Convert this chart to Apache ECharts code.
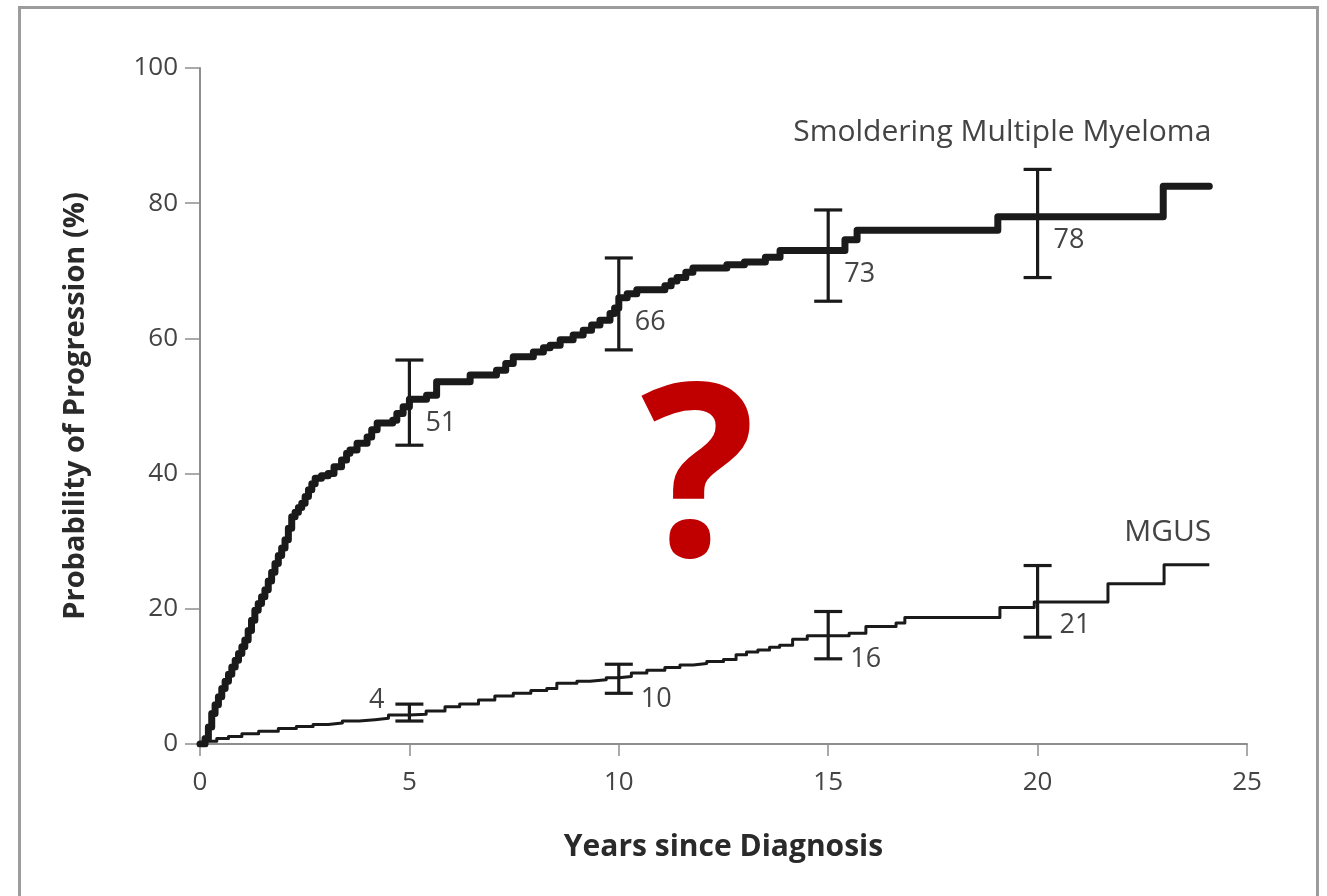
<!DOCTYPE html>
<html>
<head>
<meta charset="utf-8">
<title>Probability of Progression</title>
<script src="https://cdn.jsdelivr.net/npm/echarts@6/dist/echarts.min.js"></script>
<style>
  html, body { margin: 0; padding: 0; background: #fff; }
  #chart { width: 1327px; height: 896px; }
</style>
</head>
<body>
<div id="chart"></div>
<script>
// Cumulative probability of progression (Kaplan-Meier style step curves)
const smmYears = [0, 0.12, 0.2, 0.28, 0.36, 0.44, 0.52, 0.6, 0.68, 0.76, 0.84, 0.92, 1.0, 1.07, 1.15, 1.23, 1.31, 1.39, 1.47, 1.55, 1.63, 1.71, 1.79, 1.87, 1.95, 2.03, 2.11, 2.19, 2.27, 2.35, 2.43, 2.51, 2.59, 2.67, 2.75, 2.9, 3.06, 3.2, 3.38, 3.5, 3.58, 3.75, 3.99, 4.1, 4.23, 4.6, 4.7, 4.85, 5.0, 5.41, 5.65, 6.45, 7.08, 7.3, 7.48, 7.96, 8.2, 8.36, 8.6, 8.91, 9.15, 9.35, 9.55, 9.79, 9.9, 10.0, 10.2, 10.43, 11.1, 11.25, 11.39, 11.6, 11.77, 12.58, 13.0, 13.5, 13.85, 15.4, 15.69, 19.05, 23.0, 24.1];
const smmPct = [0, 0.8, 2.5, 4.5, 5.8, 7.0, 8.2, 9.3, 10.3, 11.4, 12.4, 13.4, 14.4, 15.4, 16.8, 18.3, 19.8, 20.8, 21.8, 22.8, 24.1, 25.4, 26.7, 27.9, 29.0, 30.2, 31.9, 33.6, 34.3, 35.0, 35.6, 36.6, 37.6, 38.5, 39.3, 39.7, 40.0, 41.0, 42.0, 43.0, 43.5, 44.5, 45.4, 46.5, 47.5, 47.9, 48.9, 49.9, 51.0, 51.6, 53.6, 54.6, 55.3, 56.3, 57.3, 58.0, 58.6, 59.0, 59.8, 60.5, 61.2, 62.0, 62.7, 63.7, 64.5, 66.0, 66.6, 67.2, 67.8, 68.5, 69.0, 69.8, 70.4, 70.9, 71.3, 72.0, 73.0, 74.6, 76.0, 78.0, 82.5, 82.5];

const mgusYears = [0, 0.12, 0.4, 0.68, 1.0, 1.4, 1.87, 2.3, 2.7, 3.06, 3.4, 3.8, 4.18, 4.5, 5.0, 5.4, 5.85, 6.2, 6.65, 7.04, 7.48, 7.9, 8.28, 8.52, 9.0, 9.31, 9.7, 10.0, 10.3, 10.67, 11.1, 11.46, 11.78, 12.1, 12.5, 12.8, 13.05, 13.32, 13.6, 13.84, 14.15, 14.5, 15.5, 15.9, 16.62, 16.83, 19.1, 19.92, 21.68, 23.02, 24.1];
const mgusPct = [0, 0.4, 0.8, 1.1, 1.5, 1.9, 2.3, 2.6, 2.9, 3.1, 3.4, 3.6, 3.8, 4.3, 4.4, 4.9, 5.5, 5.9, 6.5, 7.1, 7.5, 7.9, 8.2, 9.0, 9.3, 9.5, 9.8, 10.0, 10.5, 10.9, 11.3, 11.7, 11.9, 12.2, 12.5, 13.2, 13.6, 13.9, 14.3, 14.6, 15.5, 16.0, 16.4, 17.4, 17.9, 18.7, 20.2, 21.0, 23.7, 26.5, 26.5];

// Estimates with 95% confidence intervals at 5-year marks
const ciYears = [5, 10, 15, 20];
const smmEstimate = [51, 66, 73, 78];
const smmLower = [44.2, 58.3, 65.5, 69];
const smmUpper = [56.8, 71.9, 79, 85];
const mgusEstimate = [4, 10, 16, 21];
const mgusLower = [3.4, 7.5, 12.6, 15.8];
const mgusUpper = [5.9, 11.8, 19.6, 26.4];

const xTicks = [0, 5, 10, 15, 20, 25];
const yTicks = [0, 20, 40, 60, 80, 100];

const seriesNames = ['Smoldering Multiple Myeloma', 'MGUS'];

const FONT = '"Open Sans", "Noto Sans", sans-serif';
const INK = '#1a1a1a';
const AXIS_GRAY = '#8e8e8e';
const LABEL_GRAY = '#444444';

const zip = (a, b) => a.map((v, i) => [v, b[i]]);
const ciRows = (est, lo, hi) => ciYears.map((y, i) => [y, est[i], lo[i], hi[i]]);

function errorBars(capHalf, lineWidth, labelFor) {
  return function (params, api) {
    const x = api.value(0), est = api.value(1), lo = api.value(2), hi = api.value(3);
    const pLo = api.coord([x, lo]);
    const pHi = api.coord([x, hi]);
    const pEst = api.coord([x, est]);
    const lbl = labelFor(params.dataIndex);
    const stroke = { stroke: INK, lineWidth: lineWidth };
    return {
      type: 'group',
      children: [
        { type: 'line', shape: { x1: pLo[0], y1: pLo[1], x2: pHi[0], y2: pHi[1] }, style: stroke },
        { type: 'line', shape: { x1: pLo[0] - capHalf, y1: pLo[1], x2: pLo[0] + capHalf, y2: pLo[1] }, style: stroke },
        { type: 'line', shape: { x1: pHi[0] - capHalf, y1: pHi[1], x2: pHi[0] + capHalf, y2: pHi[1] }, style: stroke },
        {
          type: 'text',
          style: {
            text: String(est),
            x: pEst[0] + lbl.dx,
            y: pEst[1] + lbl.dy,
            fill: LABEL_GRAY,
            font: '27px ' + FONT,
            align: lbl.align,
            verticalAlign: 'middle'
          }
        }
      ]
    };
  };
}

const chart = echarts.init(document.getElementById('chart'), null, { renderer: 'canvas' });

const option = {
  backgroundColor: '#ffffff',
  animation: false,
  grid: { left: 200, right: 80, top: 68, bottom: 152, containLabel: false },
  xAxis: {
    type: 'value',
    min: xTicks[0],
    max: xTicks[xTicks.length - 1],
    interval: 5,
    name: 'Years since Diagnosis',
    nameLocation: 'middle',
    nameGap: 88,
    nameTextStyle: { fontFamily: FONT, fontSize: 30, fontWeight: 'bold', color: '#2a2a2a' },
    axisLine: { lineStyle: { color: AXIS_GRAY, width: 2 } },
    axisTick: { show: true, inside: false, length: 12, lineStyle: { color: AXIS_GRAY, width: 1.5 } },
    axisLabel: { margin: 26, fontFamily: FONT, fontSize: 26, color: LABEL_GRAY },
    splitLine: { show: false }
  },
  yAxis: {
    type: 'value',
    min: yTicks[0],
    max: yTicks[yTicks.length - 1],
    interval: 20,
    name: 'Probability of Progression (%)',
    nameLocation: 'middle',
    nameGap: 110,
    nameRotate: 90,
    nameTextStyle: { fontFamily: FONT, fontSize: 29, fontWeight: 'bold', color: '#2a2a2a' },
    axisLine: { show: true, lineStyle: { color: AXIS_GRAY, width: 2 } },
    axisTick: { show: true, inside: false, length: 15, lineStyle: { color: AXIS_GRAY, width: 1.5 } },
    axisLabel: { margin: 22, fontFamily: FONT, fontSize: 26, color: LABEL_GRAY },
    splitLine: { show: false }
  },
  series: [
    {
      name: seriesNames[0],
      type: 'line',
      step: 'end',
      showSymbol: false,
      symbol: 'none',
      data: zip(smmYears, smmPct),
      lineStyle: { color: INK, width: 7, join: 'round', cap: 'round' },
      z: 3
    },
    {
      name: seriesNames[1],
      type: 'line',
      step: 'end',
      showSymbol: false,
      symbol: 'none',
      data: zip(mgusYears, mgusPct),
      lineStyle: { color: INK, width: 3, join: 'round' },
      z: 3
    },
    {
      type: 'custom',
      name: seriesNames[0] + ' CI',
      renderItem: errorBars(14, 3.2, () => ({ dx: 16, dy: 24, align: 'left' })),
      data: ciRows(smmEstimate, smmLower, smmUpper),
      z: 4
    },
    {
      type: 'custom',
      name: seriesNames[1] + ' CI',
      renderItem: errorBars(14, 3.2, (i) => i === 0
        ? { dx: -25, dy: -17, align: 'right' }
        : { dx: 22, dy: 23, align: 'left' }),
      data: ciRows(mgusEstimate, mgusLower, mgusUpper),
      z: 4
    }
  ]
};

chart.setOption(option);

// Curve names placed just above each curve's last step
const smmEnd = chart.convertToPixel({ gridIndex: 0 }, [smmYears[smmYears.length - 1], smmPct[smmPct.length - 1]]);
const mgusEnd = chart.convertToPixel({ gridIndex: 0 }, [mgusYears[mgusYears.length - 1], mgusPct[mgusPct.length - 1]]);

chart.setOption({
  graphic: [
    {
      type: 'rect',
      left: 17, top: 5,
      shape: { width: 1298, height: 1000 },
      style: { fill: 'none', stroke: '#9c9c9c', lineWidth: 3 },
      silent: true, z: 0
    },
    {
      type: 'text',
      x: smmEnd[0] + 2, y: smmEnd[1] - 54,
      style: { text: seriesNames[0], fill: LABEL_GRAY, font: '30px ' + FONT, align: 'right', verticalAlign: 'middle' },
      z: 5
    },
    {
      type: 'text',
      x: mgusEnd[0] + 2, y: mgusEnd[1] - 32,
      style: { text: seriesNames[1], fill: LABEL_GRAY, font: '30px ' + FONT, align: 'right', verticalAlign: 'middle' },
      z: 5
    },
    {
      type: 'text',
      x: 698, y: 488,
      style: { text: '?', fill: '#c00000', font: 'bold 240px "Open Sans", sans-serif', align: 'center', verticalAlign: 'middle' },
      z: 6
    }
  ]
});
</script>
</body>
</html>
